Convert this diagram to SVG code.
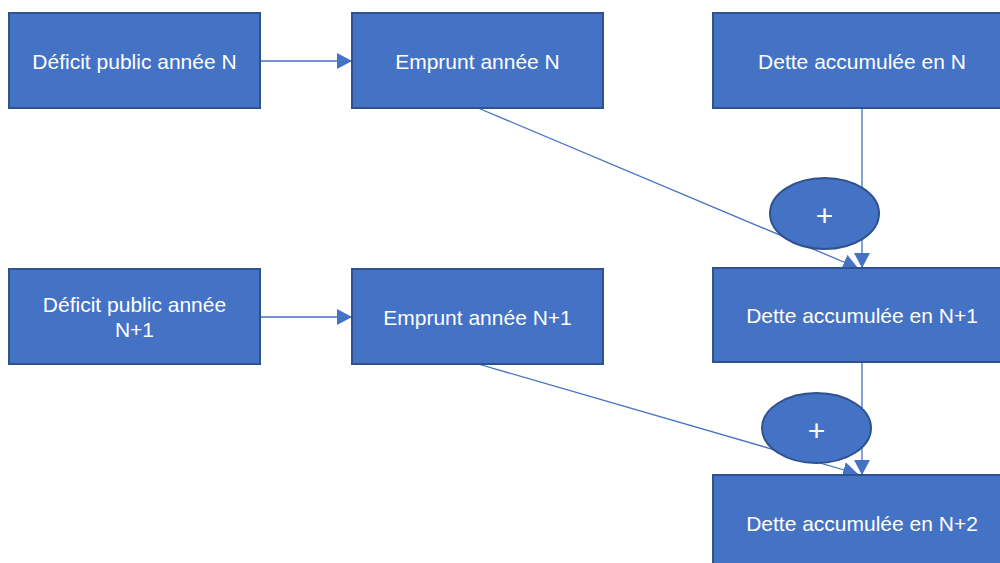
<svg xmlns="http://www.w3.org/2000/svg" width="1000" height="563" viewBox="0 0 1000 563">
<style>
.box{fill:#4472C4;stroke:#2F528F;stroke-width:2}
.t{fill:#fff;font-family:"Liberation Sans",Arial,sans-serif;font-size:21px;text-anchor:middle;dominant-baseline:central}
.plus{font-size:30px}
.c{stroke:#4472C4;stroke-width:1.3;fill:none;marker-end:url(#a)}
</style>
<defs>
<marker id="a" markerUnits="userSpaceOnUse" markerWidth="16" markerHeight="16" refX="15" refY="8" orient="auto">
<path d="M0,0 L15,8 L0,16 Z" fill="#4472C4"/>
</marker>
</defs>
<rect width="1000" height="563" fill="#fff"/>
<g id="connectors">
<line class="c" x1="260" y1="61" x2="352" y2="61"/>
<line class="c" x1="260" y1="317" x2="352" y2="317"/>
<line class="c" x1="862" y1="108" x2="862" y2="268"/>
<line class="c" x1="862" y1="362" x2="862" y2="475"/>
<line class="c" x1="478" y1="108" x2="858" y2="268"/>
<line class="c" x1="478" y1="364" x2="858" y2="474"/>
</g>
<g id="n1"><rect class="box" x="9" y="13" width="251" height="95"/><text class="t" x="134.5" y="61">Déficit public année N</text></g>
<g id="n2"><rect class="box" x="352" y="13" width="251" height="95"/><text class="t" x="477.5" y="61">Emprunt année N</text></g>
<g id="n3"><rect class="box" x="713" y="13" width="300" height="95"/><text class="t" x="862" y="61">Dette accumulée en N</text></g>
<g id="n4"><rect class="box" x="9" y="269" width="251" height="95"/><text class="t" x="134.5" y="304">Déficit public année</text><text class="t" x="134.5" y="329">N+1</text></g>
<g id="n5"><rect class="box" x="352" y="269" width="251" height="95"/><text class="t" x="477.5" y="317">Emprunt année N+1</text></g>
<g id="n6"><rect class="box" x="713" y="268" width="300" height="94"/><text class="t" x="862" y="315">Dette accumulée en N+1</text></g>
<g id="n7"><rect class="box" x="713" y="475" width="300" height="100"/><text class="t" x="862" y="523">Dette accumulée en N+2</text></g>
<g id="p1"><ellipse class="box" cx="824.5" cy="213.5" rx="54.5" ry="35.5"/><text class="t plus" x="824.5" y="215">+</text></g>
<g id="p2"><ellipse class="box" cx="816.5" cy="428" rx="54.5" ry="35"/><text class="t plus" x="816.5" y="430">+</text></g>
</svg>
